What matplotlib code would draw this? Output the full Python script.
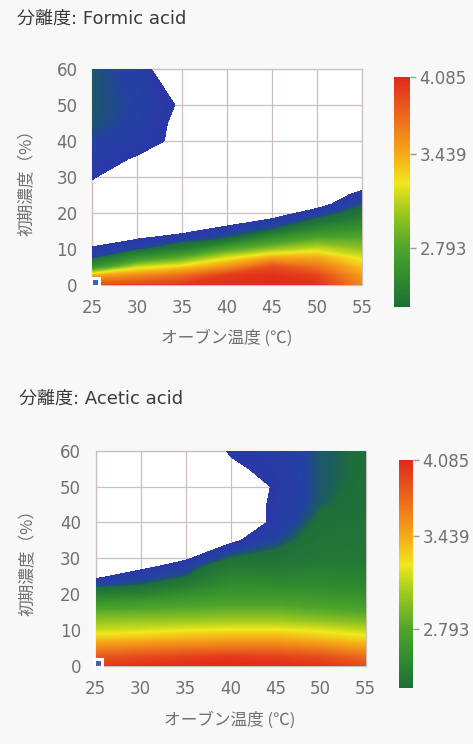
import numpy as np
import matplotlib
matplotlib.use("Agg")
import matplotlib.pyplot as plt
from matplotlib.colors import LinearSegmentedColormap, Normalize, FuncNorm
from matplotlib.cm import ScalarMappable

# ---------------- data ----------------
temps = [25, 30, 35, 40, 45, 50, 55]
concs = [0, 2.5, 5, 7.5, 10, 12.5, 15, 17.5, 20, 22.5, 25, 27.5, 30, 35, 40, 45, 50, 55, 60]

# resolution values, rows = concs, columns = temps (values < 2.0 are not drawn)
formic = [
    [3.90, 3.95, 4.00, 4.05, 4.08, 4.05, 3.60],    # 0
    [3.45, 3.60, 3.75, 4.00, 4.05, 3.95, 3.50],    # 2.5
    [2.55, 3.15, 3.30, 3.55, 3.90, 3.70, 3.35],    # 5
    [2.09, 2.55, 2.85, 3.20, 3.45, 3.45, 3.20],    # 7.5
    [2.03, 2.09, 2.30, 2.75, 3.00, 3.15, 3.00],    # 10
    [1.90, 2.01, 2.07, 2.16, 2.60, 2.85, 2.85],    # 12.5
    [1.80, 1.90, 1.97, 2.06, 2.15, 2.50, 2.60],    # 15
    [1.80, 1.85, 1.90, 1.95, 2.04, 2.18, 2.40],    # 17.5
    [1.80, 1.85, 1.85, 1.90, 1.93, 2.06, 2.20],    # 20
    [1.85, 1.85, 1.85, 1.85, 1.88, 1.94, 2.12],    # 22.5
    [1.90, 1.85, 1.85, 1.85, 1.85, 1.88, 2.05],    # 25
    [1.96, 1.85, 1.85, 1.85, 1.85, 1.85, 1.95],    # 27.5
    [2.02, 1.82, 1.85, 1.85, 1.85, 1.85, 1.85],    # 30
    [2.05, 1.9875, 1.88, 1.85, 1.85, 1.85, 1.85],  # 35
    [2.10, 2.05, 1.967, 1.85, 1.85, 1.85, 1.85],   # 40
    [2.125, 2.08, 1.962, 1.85, 1.85, 1.85, 1.85],  # 45
    [2.13, 2.09, 1.983, 1.85, 1.85, 1.85, 1.85],   # 50
    [2.13, 2.08, 1.942, 1.85, 1.85, 1.85, 1.85],   # 55
    [2.13, 2.07, 1.851, 1.85, 1.85, 1.85, 1.85],   # 60
]

acetic = [
    [4.00, 4.04, 4.07, 4.085, 4.07, 4.03, 3.90],   # 0
    [3.85, 3.90, 3.95, 4.00, 3.95, 3.90, 3.75],    # 2.5
    [3.60, 3.65, 3.68, 3.70, 3.70, 3.62, 3.50],    # 5
    [3.35, 3.38, 3.42, 3.45, 3.45, 3.38, 3.30],    # 7.5
    [3.15, 3.18, 3.22, 3.25, 3.25, 3.20, 3.12],    # 10
    [3.00, 3.02, 3.03, 3.05, 3.05, 3.00, 2.95],    # 12.5
    [2.85, 2.86, 2.88, 2.90, 2.90, 2.85, 2.80],    # 15
    [2.60, 2.65, 2.70, 2.75, 2.75, 2.70, 2.65],    # 17.5
    [2.30, 2.35, 2.50, 2.60, 2.60, 2.57, 2.52],    # 20
    [2.09, 2.14, 2.28, 2.48, 2.47, 2.45, 2.42],    # 22.5
    [1.97, 2.07, 2.13, 2.38, 2.35, 2.38, 2.35],    # 25
    [1.90, 1.97, 2.07, 2.27, 2.25, 2.30, 2.30],    # 27.5
    [1.85, 1.90, 1.98, 2.15, 2.18, 2.24, 2.25],    # 30
    [1.85, 1.85, 1.88, 1.97, 2.10, 2.20, 2.22],    # 35
    [1.85, 1.85, 1.85, 1.84, 2.04, 2.17, 2.20],    # 40
    [1.85, 1.85, 1.85, 1.88, 2.03, 2.135, 2.17],   # 45
    [1.85, 1.85, 1.85, 1.853, 2.02, 2.13, 2.16],   # 50
    [1.85, 1.85, 1.87, 1.98, 2.03, 2.13, 2.155],   # 55
    [1.85, 1.85, 1.90, 2.01, 2.04, 2.13, 2.155],   # 60
]

titles = ["分離度: Formic acid", "分離度: Acetic acid"]
xlabel = "オーブン温度 (℃)"
ylabel = "初期濃度（%）"
x_ticks = [25, 30, 35, 40, 45, 50, 55]
y_ticks = [0, 10, 20, 30, 40, 50, 60]
cb_ticks = [2.793, 3.439, 4.085]
cb_ticklabels = ["2.793", "3.439", "4.085"]
point_temp = [25.3, 25.3]
point_conc = [0.7, 0.7]

# colour scale (value -> colour)
stop_values = [2.000, 2.095, 2.118, 2.135, 2.147, 2.45, 2.793, 2.95, 3.10, 3.24, 3.439, 3.75, 4.085]
stop_colors = ['#2a38a8', '#2541a3', '#1e4f7c', '#1c5c5e', '#1e6e3a', '#2e8a2e', '#4fa52a',
               '#80bb24', '#b4d21e', '#f0e81c', '#f5aa18', '#ec6a1c', '#e0281c']
vmin, vmax = 2.0, 4.085
cb_anchor_vals = [2.147, 2.793, 3.439, 4.085]
cb_anchor_frac = [0.0, 0.257, 0.665, 1.0]

# ---------------- figure ----------------
W, H, DPI = 473, 744, 100
plt.rcParams['font.family'] = ['DejaVu Sans', 'Noto Sans CJK JP']
fig = plt.figure(figsize=(W / DPI, H / DPI), dpi=DPI, facecolor='#f8f8f8')

def rect(x0, y0, x1, y1):
    return [x0 / W, 1 - y1 / H, (x1 - x0) / W, (y1 - y0) / H]

main_cmap = LinearSegmentedColormap.from_list(
    'main', [((v - vmin) / (vmax - vmin), c) for v, c in zip(stop_values, stop_colors)], N=1024)
main_norm = Normalize(vmin, vmax)

def cb_fwd(v):
    return np.interp(v, cb_anchor_vals, cb_anchor_frac)

def cb_inv(f):
    return np.interp(f, cb_anchor_frac, cb_anchor_vals)

cb_cmap = LinearSegmentedColormap.from_list(
    'cb', [(float(cb_fwd(v)), c) for v, c in zip(stop_values[4:], stop_colors[4:])], N=512)
cb_norm = FuncNorm((cb_fwd, cb_inv), vmin=cb_anchor_vals[0], vmax=cb_anchor_vals[-1])

panels = [
    dict(data=formic, ax=(92, 69, 362, 285), cax=(394, 77, 410, 307),
         title=(17, 19), xl=(227, 338), yl=(27, 178)),
    dict(data=acetic, ax=(95.7, 450.7, 365.7, 666), cax=(399, 460, 413, 688),
         title=(19, 399), xl=(230, 720), yl=(28, 558)),
]

grid_c = '#cdbfbf'
tick_c = '#707070'
levels = np.unique(np.concatenate([np.linspace(vmin, 2.25, 120),
                                   np.linspace(2.25, 4.09, 300)]))

for i, p in enumerate(panels):
    ax = fig.add_axes(rect(*p['ax']))
    ax.set_facecolor('white')
    Z = np.array(p['data'])
    ax.contourf(temps, concs, Z, levels=levels, cmap=main_cmap, norm=main_norm,
                antialiased=False, zorder=1)
    ax.plot(point_temp[i], point_conc[i], 's', ms=5.5, mfc='#2f63c9', mec='white',
            mew=2.2, clip_on=False, zorder=5)
    ax.set_xlim(25, 55)
    ax.set_ylim(0, 60)
    ax.set_xticks(x_ticks)
    ax.set_yticks(y_ticks)
    ax.set_axisbelow(True)
    ax.grid(True, color=grid_c, linewidth=0.9)
    for s in ax.spines.values():
        s.set_color(grid_c)
        s.set_linewidth(0.9)
        s.set_zorder(0.6)
    ax.tick_params(axis='x', length=0, labelsize=12, labelcolor=tick_c, pad=10)
    ax.tick_params(axis='y', length=0, labelsize=12, labelcolor=tick_c, pad=10.5)

    tx, ty = p['title']
    fig.text(tx / W, 1 - ty / H, titles[i], ha='left', va='center', fontsize=13,
             color='#3a3a3a', family=['DejaVu Sans', 'Noto Sans CJK JP'])
    x, y = p['xl']
    fig.text(x / W, 1 - y / H, xlabel, ha='center', va='center', fontsize=12,
             color=tick_c, family=['Noto Sans CJK JP', 'DejaVu Sans'])
    x, y = p['yl']
    fig.text(x / W, 1 - y / H, ylabel, ha='center', va='center', fontsize=12,
             rotation=90, color=tick_c, family=['Noto Sans CJK JP', 'DejaVu Sans'])

    cax = fig.add_axes(rect(*p['cax']))
    sm = ScalarMappable(norm=cb_norm, cmap=cb_cmap)
    cbar = fig.colorbar(sm, cax=cax, ticks=cb_ticks)
    cbar.set_ticklabels(cb_ticklabels)
    cbar.outline.set_visible(False)
    cbar.ax.minorticks_off()
    cbar.ax.tick_params(length=4, width=1, color='#9a9a9a', labelsize=12,
                        labelcolor=tick_c, pad=3)

fig.savefig('out.png', dpi=DPI, facecolor=fig.get_facecolor())
